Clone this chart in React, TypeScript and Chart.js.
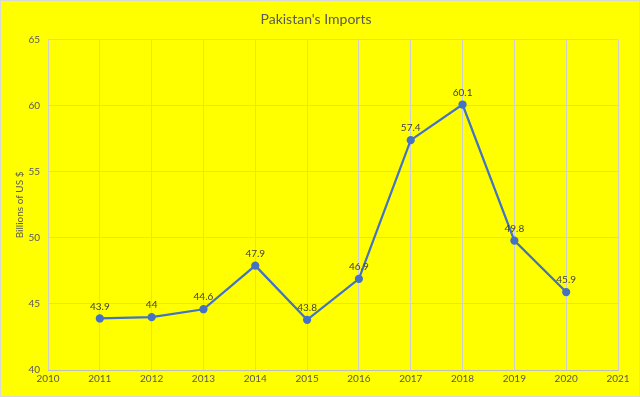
import React, { useEffect, useRef } from "react";
import { Chart, registerables } from "chart.js";

Chart.register(...registerables);

const years = [2011, 2012, 2013, 2014, 2015, 2016, 2017, 2018, 2019, 2020];
const imports = [43.9, 44, 44.6, 47.9, 43.8, 46.9, 57.4, 60.1, 49.8, 45.9];
const labelsText = ["43.9", "44", "44.6", "47.9", "43.8", "46.9", "57.4", "60.1", "49.8", "45.9"];

const FONT = "Lato, 'Open Sans', sans-serif";

const bgPlugin = {
  id: "bg",
  beforeDraw(chart: any) {
    const { ctx, width, height } = chart;
    ctx.save();
    ctx.fillStyle = "#FFFF00";
    ctx.fillRect(0, 0, width, height);
    ctx.strokeStyle = "#d9d9d9";
    ctx.lineWidth = 1;
    ctx.strokeRect(0.5, 0.5, width - 1, height - 1);
    ctx.restore();
  },
};

const labelPlugin = {
  id: "pointLabels",
  afterDatasetsDraw(chart: any) {
    const { ctx } = chart;
    const meta = chart.getDatasetMeta(0);
    ctx.save();
    ctx.font = `10px ${FONT}`;
    ctx.fillStyle = "#404040";
    ctx.textAlign = "center";
    ctx.textBaseline = "bottom";
    meta.data.forEach((pt: any, i: number) => {
      ctx.fillText(labelsText[i], pt.x, pt.y - 7);
    });
    ctx.restore();
  },
};

export default function App() {
  const ref = useRef<HTMLCanvasElement>(null);
  useEffect(() => {
    document.body.style.margin = "0";
    const chart = new Chart(ref.current!, {
      type: "line",
      data: {
        datasets: [
          {
            data: years.map((y, i) => ({ x: y, y: imports[i] })),
            borderColor: "#4472C4",
            backgroundColor: "#4472C4",
            borderWidth: 2.25,
            pointRadius: 3,
            pointBackgroundColor: "#4472C4",
            pointBorderColor: "#4472C4",
            tension: 0,
          },
        ],
      },
      options: {
        animation: false,
        responsive: false,
        layout: { padding: { left: 14, right: 22, top: 3, bottom: 5 } },
        plugins: {
          legend: { display: false },
          tooltip: { enabled: false },
          title: {
            display: true,
            text: "Pakistan's Imports",
            color: "#595959",
            font: { family: FONT, size: 14, weight: "normal" },
            padding: { top: 8, bottom: 12 },
          },
        },
        scales: {
          x: {
            type: "linear",
            min: 2010,
            max: 2021,
            ticks: {
              stepSize: 1,
              color: "#595959",
              font: { family: FONT, size: 10 },
              callback: (v: any) => String(v),
              maxRotation: 0,
            },
            grid: { color: "#d0d0d0", drawTicks: false },
            border: { color: "#bfbfbf" },
            afterFit: (s: any) => {
              s.height = 22;
            },
          },
          y: {
            min: 40,
            max: 65,
            ticks: {
              stepSize: 5,
              color: "#595959",
              font: { family: FONT, size: 10 },
              padding: 8,
            },
            grid: { color: "#d0d0d0", drawTicks: false },
            border: { display: false },
            title: {
              display: true,
              text: "Billions of US $",
              color: "#595959",
              font: { family: FONT, size: 10 },
              padding: { top: 0, bottom: 2 },
            },
            afterFit: (s: any) => {
              s.width = 34;
            },
          },
        },
      },
      plugins: [bgPlugin, labelPlugin],
    } as any);
    return () => chart.destroy();
  }, []);
  return <canvas ref={ref} width={640} height={397} style={{ display: "block" }} />;
}
